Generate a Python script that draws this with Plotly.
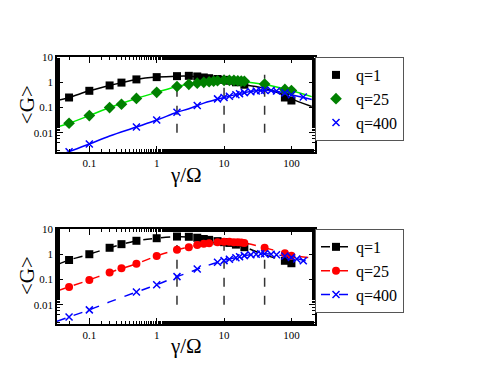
import plotly.graph_objects as go
from plotly.subplots import make_subplots

# ---- top panel: points + solid fits ----
top_q1_x = [0.05, 0.1, 0.2, 0.3, 0.5, 1, 2, 3, 4, 5, 6, 8, 10, 12, 15, 20, 80, 100]
top_q1_y = [0.25, 0.46, 0.75, 0.97, 1.3, 1.6, 1.75, 1.8, 1.7, 1.55, 1.45, 1.35, 1.25, 1.15, 1.0, 0.8, 0.25, 0.19]
top_q25_x = [0.05, 0.1, 0.2, 0.3, 0.5, 1, 2, 3, 4, 5, 6, 7, 8, 10, 12, 14, 16, 18, 20, 40, 80, 100]
top_q25_y = [0.024, 0.048, 0.1, 0.135, 0.23, 0.40, 0.68, 0.83, 0.92, 1.0, 1.05, 1.1, 1.15, 1.2, 1.2, 1.18, 1.15, 1.12, 1.1, 0.85, 0.52, 0.47]
top_q400_x = [0.05, 0.1, 0.5, 1, 2, 4, 8, 10, 12, 15, 17, 20, 25, 30, 35, 40, 50, 60, 80, 100, 150]
top_q400_y = [0.0018, 0.0036, 0.017, 0.032, 0.065, 0.12, 0.22, 0.25, 0.28, 0.32, 0.35, 0.39, 0.42, 0.45, 0.47, 0.48, 0.47, 0.45, 0.38, 0.32, 0.26]

top_fit_x = [0.033, 0.05, 0.1, 0.2, 0.5, 1, 2, 3, 5, 10, 20, 40, 80, 100, 200]
top_fit_q1 = [0.19, 0.25, 0.46, 0.75, 1.3, 1.6, 1.75, 1.75, 1.55, 1.15, 0.8, 0.58, 0.3, 0.22, 0.11]
top_fit_q25 = [0.017, 0.024, 0.048, 0.1, 0.23, 0.4, 0.68, 0.83, 1.0, 1.15, 1.05, 0.82, 0.55, 0.47, 0.27]
top_fit_q400 = [0.0012, 0.0018, 0.0036, 0.0075, 0.017, 0.032, 0.065, 0.09, 0.15, 0.25, 0.39, 0.48, 0.38, 0.32, 0.21]

# ---- bottom panel: points + dashed fits ----
bot_q1_x = [0.05, 0.1, 0.2, 0.3, 0.5, 1, 2, 3, 4, 5, 6, 8, 10, 12, 15, 20, 80, 100]
bot_q1_y = [0.59, 1.0, 1.8, 2.5, 3.4, 4.3, 5.0, 4.9, 4.5, 4.0, 3.7, 3.3, 3.0, 2.8, 2.4, 1.9, 0.55, 0.44]
bot_q25_x = [0.05, 0.1, 0.2, 0.3, 0.5, 1, 2, 3, 4, 5, 6, 8, 10, 12, 14, 16, 18, 20, 40, 80, 100]
bot_q25_y = [0.051, 0.096, 0.19, 0.28, 0.42, 0.85, 1.5, 1.9, 2.3, 2.6, 2.7, 3.0, 3.1, 3.1, 3.0, 3.0, 2.9, 2.8, 1.8, 1.1, 0.88]
bot_q400_x = [0.05, 0.1, 0.5, 1, 2, 4, 8, 10, 12, 15, 17, 20, 25, 30, 35, 40, 50, 60, 80, 100, 120, 150]
bot_q400_y = [0.0033, 0.0063, 0.032, 0.062, 0.13, 0.26, 0.48, 0.56, 0.63, 0.72, 0.8, 0.88, 0.95, 1.0, 1.05, 1.05, 1.0, 0.95, 0.85, 0.75, 0.65, 0.55]

bot_fit_x = [0.033, 0.05, 0.1, 0.2, 0.5, 1, 2, 3, 5, 10, 20, 40, 80, 100, 190]
bot_fit_q1 = [0.38, 0.59, 1.0, 1.8, 3.4, 4.3, 4.9, 4.8, 4.0, 3.0, 1.9, 0.95, 0.55, 0.45, None]
bot_fit_q25 = [0.035, 0.051, 0.096, 0.19, 0.42, 0.85, 1.5, 1.9, 2.6, 3.1, 2.8, 1.8, 1.1, 0.9, 0.74]
bot_fit_q400 = [0.0022, 0.0033, 0.0063, 0.013, 0.032, 0.062, 0.13, 0.19, 0.32, 0.56, 0.88, 1.05, 0.85, 0.75, 0.5]

vlines_x = [2, 10, 40]
ytick_vals = [0.01, 0.1, 1, 10]
xtick_vals = [0.1, 1, 10, 100]

serif = "Liberation Serif"
fig = make_subplots(rows=2, cols=1, vertical_spacing=0.288)

for row, top in [(1, 2), (2, 2.3)]:
    for xv in vlines_x:
        fig.add_trace(go.Scatter(x=[xv, xv], y=[0.01, top], mode="lines", showlegend=False,
                                 line=dict(color="#333333", width=1.5, dash="dash")), row=row, col=1)

# top fits (solid)
for yy, col in [(top_fit_q1, "black"), (top_fit_q25, "#00ee00"), (top_fit_q400, "#0000ff")]:
    fig.add_trace(go.Scatter(x=top_fit_x, y=yy, mode="lines", line_shape="spline", showlegend=False,
                             line=dict(color=col, width=1.5)), row=1, col=1)
fig.add_trace(go.Scatter(x=top_q1_x, y=top_q1_y, mode="markers", name="q=1", legend="legend",
                         marker=dict(symbol="square", size=8, color="black")), row=1, col=1)
fig.add_trace(go.Scatter(x=top_q25_x, y=top_q25_y, mode="markers", name="q=25", legend="legend",
                         marker=dict(symbol="diamond", size=9, color="#008000")), row=1, col=1)
fig.add_trace(go.Scatter(x=top_q400_x, y=top_q400_y, mode="markers", name="q=400", legend="legend",
                         marker=dict(symbol="x-thin", size=7, color="#0000ff",
                                     line=dict(color="#0000ff", width=1.5))), row=1, col=1)

# bottom fits (dashed)
for yy, col in [(bot_fit_q1, "black"), (bot_fit_q25, "#ff0000"), (bot_fit_q400, "#0000ff")]:
    fig.add_trace(go.Scatter(x=bot_fit_x, y=yy, mode="lines", line_shape="spline", showlegend=False,
                             line=dict(color=col, width=1.5, dash="dash")), row=2, col=1)
bot_series = [
    (bot_q1_x, bot_q1_y, "q=1", dict(symbol="square", size=8, color="black"), "black"),
    (bot_q25_x, bot_q25_y, "q=25", dict(symbol="circle", size=8, color="#ff0000"), "#ff0000"),
    (bot_q400_x, bot_q400_y, "q=400", dict(symbol="x-thin", size=7, color="#0000ff",
                                           line=dict(color="#0000ff", width=1.5)), "#0000ff"),
]
for xx, yy, name, mk, col in bot_series:
    fig.add_trace(go.Scatter(x=xx, y=yy, mode="markers", showlegend=False, marker=mk), row=2, col=1)
    fig.add_trace(go.Scatter(x=[None], y=[None], mode="lines+markers", name=name, legend="legend2",
                             marker=mk, line=dict(color=col, width=1.5, dash="dash")), row=2, col=1)

axis_common = dict(type="log", showline=True, mirror="allticks", linecolor="black", linewidth=1.5,
                   ticks="inside", ticklen=6, tickwidth=1.2, tickcolor="black", showgrid=False,
                   zeroline=False, automargin=False,
                   tickfont=dict(family=serif, size=11, color="black"),
                   minor=dict(ticks="inside", ticklen=3, tickcolor="black", showgrid=False))
for r in (1, 2):
    fig.update_xaxes(axis_common, range=[-1.48, 2.35], tickvals=xtick_vals,
                     ticktext=[str(v) for v in xtick_vals], row=r, col=1)
    fig.update_yaxes(axis_common, range=[-2.76, 1.0], tickvals=ytick_vals,
                     ticktext=[str(v) for v in ytick_vals], row=r, col=1)

# axis titles placed as annotations so they sit where the original ones are
title_font = dict(family=serif, size=21, color="black")
for ypos in (0.558, -0.082):
    fig.add_annotation(text="γ/Ω", xref="paper", yref="paper", x=0.5, y=ypos,
                       xanchor="center", yanchor="middle", showarrow=False, font=title_font)
for ypos in (0.82, 0.18):
    fig.add_annotation(text="&lt;G&gt;", xref="paper", yref="paper", x=-0.116, y=ypos,
                       xanchor="center", yanchor="middle", textangle=-90,
                       showarrow=False, font=title_font)

legend_common = dict(xanchor="left", yanchor="top", x=1.0, bgcolor="white", bordercolor="#555555",
                     borderwidth=1, font=dict(family=serif, size=16, color="black"),
                     tracegroupgap=0, itemwidth=30)
# page body has an 8px margin, so the figure is 8px smaller and margins shifted
fig.update_layout(
    width=486, height=374, paper_bgcolor="white", plot_bgcolor="white",
    font=dict(family=serif),
    margin=dict(l=49, r=179, t=49, b=58),
    legend=dict(legend_common, y=1.0),
    legend2=dict(legend_common, y=0.356),
)
fig.write_html("out.html")
